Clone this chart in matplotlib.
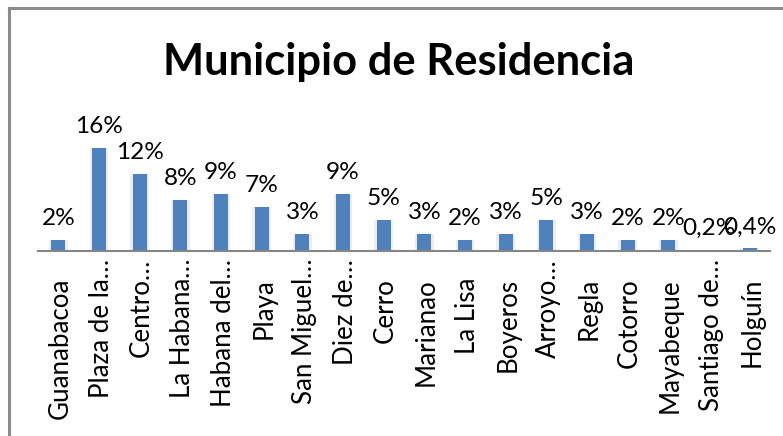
import matplotlib
matplotlib.use("Agg")
import matplotlib.pyplot as plt
import matplotlib.transforms as mtrans

categories = ["Guanabacoa", "Plaza de la…", "Centro…", "La Habana…", "Habana del…",
              "Playa", "San Miguel…", "Diez de…", "Cerro", "Marianao", "La Lisa",
              "Boyeros", "Arroyo…", "Regla", "Cotorro", "Mayabeque", "Santiago de…",
              "Holguín"]
values = [1.7, 16.0, 12.0, 7.9, 8.9, 6.8, 2.7, 8.9, 4.8, 2.7, 1.7, 2.7, 4.8, 2.7,
          1.7, 1.7, 0.2, 0.4]
value_labels = ["2%", "16%", "12%", "8%", "9%", "7%", "3%", "9%", "5%", "3%", "2%",
                "3%", "5%", "3%", "2%", "2%", "0,2%", "0,4%"]
title = "Municipio de Residencia"

W, H = 783, 436
fig = plt.figure(figsize=(W / 100, H / 100), dpi=100)
plt.rcParams['font.family'] = ['Lato', 'DejaVu Sans']

# outer chart border (top and left visible)
fig.add_artist(plt.Line2D([8.5 / W, 8.5 / W], [0, 1 - 8.5 / H], transform=fig.transFigure,
                          color="#8c8c8c", lw=2.2))
fig.add_artist(plt.Line2D([8.5 / W, 1], [1 - 8.5 / H, 1 - 8.5 / H], transform=fig.transFigure,
                          color="#8c8c8c", lw=2.2))

ax_left, ax_right = 38, 770
ax_bottom_px, ax_top_px = 251, 100
ax = fig.add_axes([ax_left / W, (H - ax_bottom_px) / H, (ax_right - ax_left) / W,
                   (ax_bottom_px - ax_top_px) / H])
px_per_unit = 103.3 / 16.0
ax.set_ylim(0, (ax_bottom_px - ax_top_px) / px_per_unit)
ax.set_xlim(-0.5, len(categories) - 0.5)

x = list(range(len(categories)))
# soft shadow behind bars
ax.bar(x, values, width=0.46, color="#ededed", zorder=1)
ax.bar(x, values, width=0.34, color="#4f81bd", zorder=2)

for s in ["top", "right", "left"]:
    ax.spines[s].set_visible(False)
ax.spines["bottom"].set_color("#868686")
ax.spines["bottom"].set_linewidth(1.5)
ax.set_yticks([])
ax.set_xticks([])

fig.canvas.draw()
renderer = fig.canvas.get_renderer()

def fit_size(text, target_px, weight="normal", base=20):
    t = fig.text(0, 0, text, fontsize=base, fontweight=weight)
    w = t.get_window_extent(renderer).width
    t.remove()
    return base * target_px / w

fs_title = fit_size(title, 472, "bold")
fs_val = fit_size("12%", 45) * 1.06
fs_tick = fit_size("Guanabacoa", 134) * 1.05

fig.text((163 + 635) / 2 / W, 1 - 75 / H, title, fontsize=fs_title, fontweight="bold",
         ha="center", va="baseline", color="black")

for xi, v, lab in zip(x, values, value_labels):
    ax.annotate(lab, (xi, v), xytext=(0, 11), textcoords="offset pixels",
                ha="center", va="bottom", fontsize=fs_val, color="black")

for xi, lab in zip(x, categories):
    top_px = 259 if lab.endswith("…") else 278
    yax = -(top_px - ax_bottom_px) / (ax_bottom_px - ax_top_px)
    ax.text(xi + 0.05, yax, lab, rotation=90, ha="center", va="top", fontsize=fs_tick,
            transform=mtrans.blended_transform_factory(ax.transData, ax.transAxes),
            color="black")

fig.savefig("out.png", dpi=100)
